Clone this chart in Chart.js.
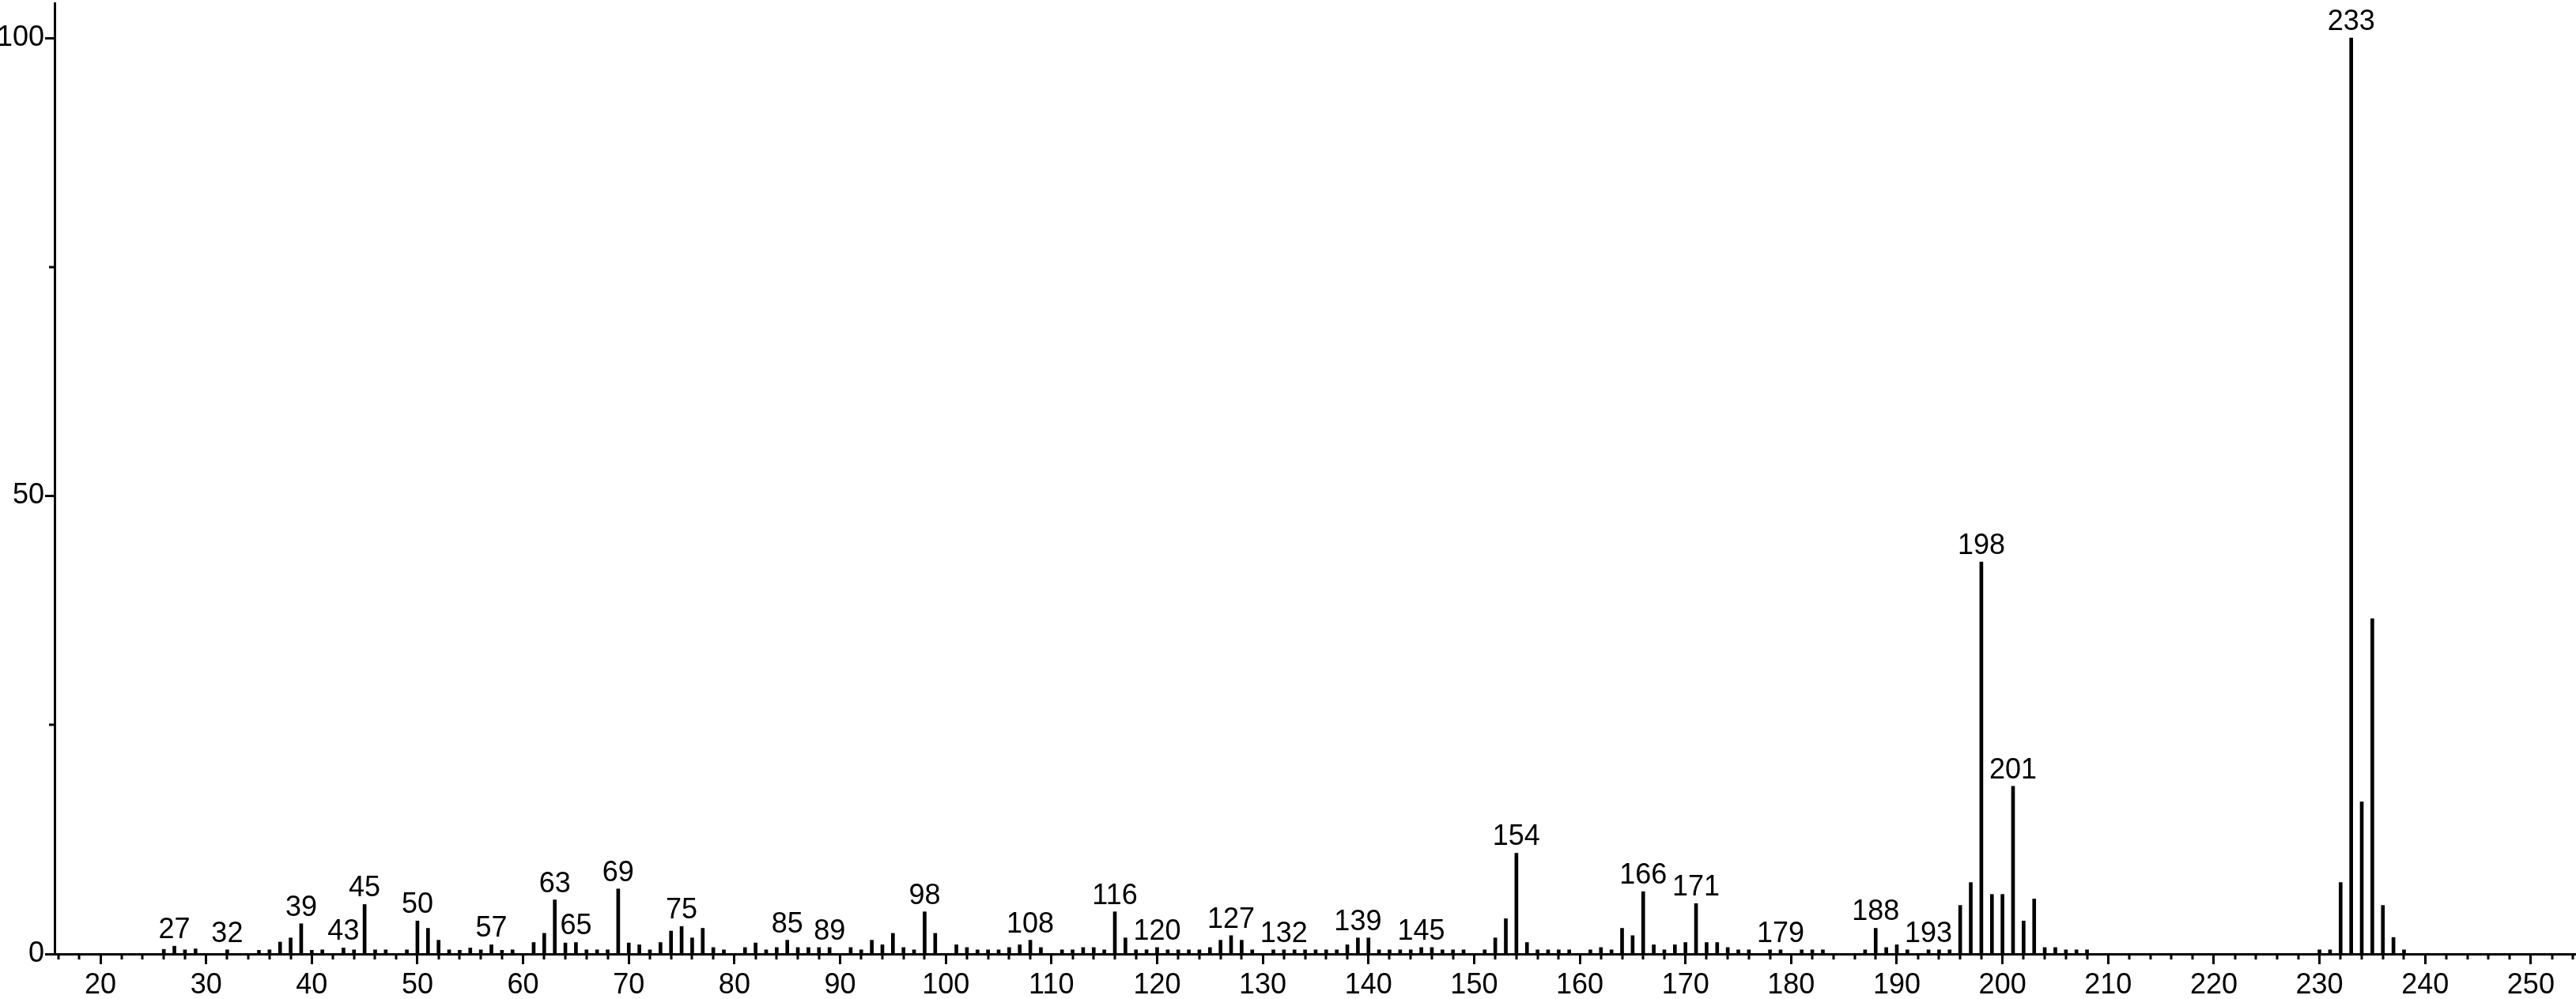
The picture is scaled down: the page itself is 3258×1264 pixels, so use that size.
<!DOCTYPE html>
<html>
<head>
<meta charset="utf-8">
<script src="https://cdn.jsdelivr.net/npm/chart.js@4.4.0/dist/chart.umd.min.js"></script>
<style>
html, body { margin: 0; padding: 0; background: #fff; }
</style>
</head>
<body>
<canvas id="myChart" width="3258" height="1264"></canvas>
<script>
// m/z values and relative intensity (%)
var mz = [26, 27, 28, 29, 32, 35, 36, 37, 38, 39, 40, 41, 43, 44, 45, 46, 47, 49, 50, 51, 52, 53, 54, 55, 56, 57, 58, 59,
    61, 62, 63, 64, 65, 66, 67, 68, 69, 70, 71, 72, 73, 74, 75, 76, 77, 78, 79, 81, 82, 83, 84, 85, 86, 87, 88, 89,
    91, 92, 93, 94, 95, 96, 97, 98, 99, 101, 102, 103, 104, 105, 106, 107, 108, 109, 111, 112, 113, 114, 115, 116, 117, 118, 119,
    120, 121, 122, 123, 124, 125, 126, 127, 128, 129, 131, 132, 133, 134, 135, 136, 137, 138, 139, 140, 141, 142, 143, 144, 145,
    146, 147, 148, 149, 151, 152, 153, 154, 155, 156, 157, 158, 159, 161, 162, 163, 164, 165, 166, 167, 168, 169, 170, 171, 172,
    173, 174, 175, 176, 178, 179, 181, 182, 183, 187, 188, 189, 190, 191, 193, 194, 195, 196, 197, 198, 199, 200, 201, 202, 203,
    204, 205, 206, 207, 208, 230, 231, 232, 233, 234, 235, 236, 237, 238];
var intensity = [0.5, 0.85, 0.45, 0.55, 0.45, 0.4, 0.45, 1.3, 1.75, 3.3, 0.4, 0.45, 0.65, 0.45, 5.4, 0.45, 0.45, 0.45, 3.6, 2.8, 1.5, 0.45, 0.4, 0.65, 0.45, 1.0, 0.4, 0.45,
    1.25, 2.25, 5.9, 1.2, 1.25, 0.45, 0.45, 0.45, 7.1, 1.2, 1.0, 0.45, 1.25, 2.5, 3.0, 1.75, 2.8, 0.7, 0.45, 0.7, 1.2, 0.45, 0.7, 1.5, 0.7, 0.7, 0.7, 0.7,
    0.7, 0.45, 1.5, 1.0, 2.25, 0.7, 0.45, 4.6, 2.25, 1.0, 0.7, 0.45, 0.45, 0.45, 0.7, 1.0, 1.5, 0.7, 0.45, 0.45, 0.7, 0.7, 0.45, 4.6, 1.75, 0.45, 0.45,
    0.7, 0.45, 0.45, 0.45, 0.45, 0.7, 1.5, 2.0, 1.5, 0.45, 0.45, 0.45, 0.45, 0.45, 0.45, 0.45, 0.45, 1.0, 1.75, 1.75, 0.45, 0.45, 0.45, 0.45, 0.7,
    0.7, 0.45, 0.45, 0.45, 0.45, 1.75, 3.85, 11.0, 1.25, 0.45, 0.45, 0.45, 0.45, 0.45, 0.7, 0.45, 2.8, 2.0, 6.8, 1.0, 0.45, 1.0, 1.25, 5.5, 1.25,
    1.25, 0.7, 0.45, 0.45, 0.45, 0.45, 0.45, 0.45, 0.45, 0.45, 2.8, 0.7, 1.0, 0.45, 0.45, 0.45, 0.45, 5.3, 7.8, 42.8, 6.5, 6.5, 18.3, 3.6, 6.0,
    0.7, 0.7, 0.45, 0.45, 0.45, 0.45, 0.45, 7.8, 100, 16.6, 36.6, 5.3, 1.8, 0.45];
var labeledPeaks = [27, 32, 39, 43, 45, 50, 57, 63, 65, 69, 75, 85, 89, 98, 108, 116, 120, 127, 132, 139, 145,
    154, 166, 171, 179, 188, 193, 198, 201, 233];
var yTicks = [0, 50, 100];
var yMinorTicks = [25, 75];
var xMinorStep = 2;

var fontFamily = "'Liberation Sans', Arial, sans-serif";

// small ticks every 2 units on x and at 25/75 on y
var minorTicks = {
    id: 'minorTicks',
    afterDraw: function(chart) {
        var c = chart.ctx, xs = chart.scales.x, ys = chart.scales.y, a = chart.chartArea;
        c.save();
        c.strokeStyle = '#000';
        c.lineWidth = 3;
        c.beginPath();
        for (var v = Math.ceil(xs.min / xMinorStep) * xMinorStep; v <= xs.max; v += xMinorStep) {
            if (v % 10 === 0) continue;
            var px = Math.round(xs.getPixelForValue(v));
            c.moveTo(px, a.bottom);
            c.lineTo(px, a.bottom + 7);
        }
        yMinorTicks.forEach(function(v) {
            var py = Math.round(ys.getPixelForValue(v));
            c.moveTo(a.left, py);
            c.lineTo(a.left - 7, py);
        });
        c.stroke();
        c.restore();
    }
};

// m/z labels above the main peaks
var peakLabels = {
    id: 'peakLabels',
    afterDatasetsDraw: function(chart) {
        var c = chart.ctx;
        var meta = chart.getDatasetMeta(0);
        c.save();
        c.fillStyle = '#000';
        c.font = '36px ' + fontFamily;
        c.textAlign = 'center';
        c.textBaseline = 'bottom';
        meta.data.forEach(function(bar, i) {
            if (labeledPeaks.indexOf(mz[i]) < 0) return;
            c.fillText(String(mz[i]), bar.x, bar.y - 2);
        });
        c.restore();
    }
};

var ctx = document.querySelector('#myChart').getContext('2d');
var myChart = new Chart(ctx, {
    type: 'bar',
    data: {
        datasets: [{
            data: mz.map(function(m, i) { return { x: m, y: intensity[i] }; }),
            backgroundColor: '#000',
            borderWidth: 0,
            barThickness: 4
        }]
    },
    plugins: [minorTicks, peakLabels],
    options: {
        responsive: false,
        animation: false,
        devicePixelRatio: 1,
        layout: { padding: { top: 4, right: 1, left: 0, bottom: 0 } },
        plugins: {
            legend: { display: false },
            tooltip: { enabled: false }
        },
        scales: {
            x: {
                type: 'linear',
                min: 15.66,
                max: 254.2,
                offset: false,
                grid: { drawOnChartArea: false, drawTicks: true, offset: false, tickLength: 13, tickWidth: 3, tickColor: '#000' },
                border: { display: true, color: '#000', width: 3 },
                ticks: {
                    stepSize: 10,
                    includeBounds: false,
                    autoSkip: false,
                    maxRotation: 0,
                    padding: 5,
                    color: '#000',
                    font: { family: fontFamily, size: 36 }
                },
                afterFit: function(s) { s.height = 57; s.paddingLeft = 0; s.paddingRight = 0; }
            },
            y: {
                min: 0,
                max: 103.8,
                grid: { drawOnChartArea: false, drawTicks: true, tickLength: 12, tickWidth: 3, tickColor: '#000' },
                border: { display: true, color: '#000', width: 3 },
                afterBuildTicks: function(s) { s.ticks = yTicks.map(function(v) { return { value: v }; }); },
                ticks: {
                    padding: 1,
                    color: '#000',
                    font: { family: fontFamily, size: 36 }
                },
                afterFit: function(s) { s.width = 69; s.paddingTop = 0; s.paddingBottom = 0; }
            }
        }
    }
});
</script>
</body>
</html>
